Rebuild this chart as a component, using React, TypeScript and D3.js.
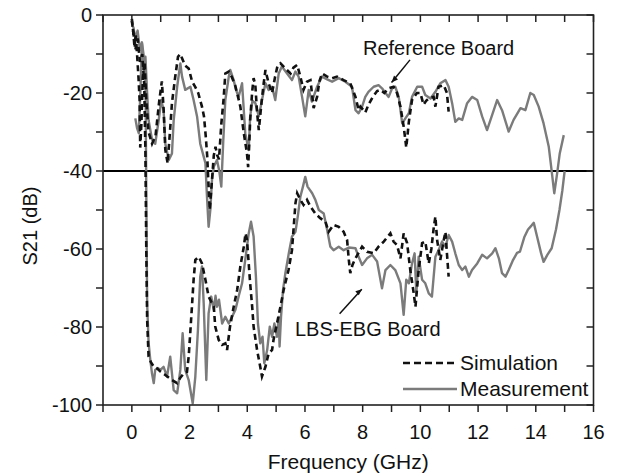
import React from "react";
import * as d3 from "d3";

// S21 transmission, reference board vs. LBS-EBG board (GHz, dB)
const refSim: [number, number][] = [
  [0, -1], [0.05, -4.5], [0.09, -8], [0.13, -5], [0.18, -10], [0.23, -16], [0.27, -22], [0.29, -34],
  [0.33, -28], [0.38, -16], [0.44, -12], [0.5, -22], [0.58, -30], [0.7, -33], [0.82, -31], [0.95, -22],
  [1.04, -17], [1.1, -24], [1.16, -34.6], [1.24, -38], [1.32, -30], [1.39, -22.6], [1.5, -16], [1.6, -10.7],
  [1.68, -10], [1.74, -11.1], [1.85, -13], [1.97, -13.7], [2.09, -17.1], [2.2, -18.5], [2.3, -20],
  [2.43, -23.5], [2.5, -26], [2.56, -31], [2.61, -36], [2.66, -44], [2.7, -50], [2.76, -44], [2.84, -36],
  [2.9, -33.8], [2.96, -36], [3.02, -37], [3.1, -28], [3.18, -21.5], [3.24, -15], [3.36, -14.5],
  [3.47, -16], [3.58, -18], [3.68, -21], [3.76, -23.5], [3.88, -30.3], [3.99, -35.5], [4.03, -39],
  [4.07, -33], [4.1, -27], [4.17, -19.7], [4.22, -16.2], [4.28, -18], [4.34, -25], [4.4, -29.5],
  [4.5, -22], [4.57, -17.5], [4.63, -14.1], [4.74, -17.5], [4.86, -20], [4.96, -16], [5.05, -13],
  [5.15, -12.4], [5.32, -13.7], [5.5, -15], [5.6, -13.5], [5.73, -12.8], [5.84, -15.8], [5.95, -19.2],
  [6.07, -17.1], [6.19, -16.7], [6.3, -23.9], [6.42, -21], [6.5, -17], [6.59, -15], [6.77, -15.8],
  [6.94, -16.2], [7.11, -15.8], [7.34, -16.7], [7.57, -17.5], [7.75, -21], [7.86, -24.4], [7.92, -23.5],
  [8.03, -24.4], [8.09, -25], [8.2, -23], [8.35, -21], [8.5, -19.5], [8.61, -19.2], [8.75, -20],
  [8.9, -18.8], [9.07, -18.4], [9.19, -20], [9.31, -23.5], [9.42, -28.6], [9.48, -32], [9.51, -34],
  [9.6, -27.4], [9.71, -21.8], [9.88, -20], [10.0, -20], [10.11, -23], [10.2, -22], [10.29, -21.4],
  [10.46, -21], [10.52, -23.5], [10.63, -18.4], [10.81, -18], [10.92, -20], [10.98, -24.8],
];

const refMeas: [number, number][] = [
  [0.12, -26.5], [0.18, -29], [0.24, -30.3], [0.29, -21], [0.35, -7.3], [0.41, -14.1], [0.47, -10.7],
  [0.53, -20], [0.58, -27], [0.7, -32], [0.81, -33], [0.93, -27], [1.02, -21.8], [1.1, -24.4],
  [1.16, -33], [1.28, -37.2], [1.39, -35.5], [1.45, -27], [1.57, -18.4], [1.68, -12.4], [1.74, -15.8],
  [1.85, -19.2], [2.03, -18.4], [2.14, -21.8], [2.26, -26], [2.37, -33], [2.49, -36.3], [2.55, -38],
  [2.6, -46], [2.66, -54.3], [2.72, -50], [2.78, -42], [2.84, -38.9], [2.95, -37.2], [3.03, -40],
  [3.1, -44], [3.17, -32], [3.24, -21.8], [3.36, -15.8], [3.41, -14.1], [3.53, -16.7], [3.6, -19],
  [3.7, -21], [3.82, -17.5], [3.93, -30.3], [4.05, -34.6], [4.1, -26], [4.18, -22], [4.28, -22.6],
  [4.4, -26], [4.51, -21.8], [4.63, -17.5], [4.74, -19.2], [4.86, -18.4], [4.97, -21.8], [5.09, -15],
  [5.2, -13.2], [5.38, -15], [5.55, -16.7], [5.67, -14.5], [5.78, -15.8], [5.9, -21], [6.01, -26],
  [6.13, -19.2], [6.24, -22.2], [6.42, -18.4], [6.59, -15.8], [6.77, -16.5], [6.94, -17.1],
  [7.17, -16.2], [7.4, -17.1], [7.63, -18.4], [7.75, -24.4], [7.86, -25.2], [7.98, -23.5], [8.09, -21],
  [8.2, -19.7], [8.38, -18.4], [8.55, -18], [8.67, -18.8], [8.79, -20], [8.9, -21], [9.02, -18.8],
  [9.13, -18.4], [9.25, -21], [9.37, -27.8], [9.48, -26.5], [9.6, -25.2], [9.71, -21], [9.89, -18.4],
  [10.06, -18.4], [10.17, -20.5], [10.35, -21.4], [10.52, -19.7], [10.69, -17.5], [10.87, -16.7],
  [10.98, -18.4], [11.1, -22.6], [11.21, -27.4], [11.33, -26.5], [11.45, -26.9], [11.62, -22.6],
  [11.79, -21], [11.97, -21.8], [12.14, -26], [12.31, -29.5], [12.43, -26.9], [12.66, -21.8],
  [12.83, -24.4], [13.06, -29.9], [13.23, -26.9], [13.47, -23.9], [13.64, -24.4], [13.81, -20],
  [13.93, -20.5], [14.1, -23.5], [14.27, -27.8], [14.45, -33.8], [14.56, -40.6], [14.64, -45.7],
  [14.74, -40.6], [14.83, -35.5], [14.97, -30.8],
];

const lbsSim: [number, number][] = [
  [0, -1.5], [0.06, -5], [0.12, -9], [0.2, -6], [0.28, -12], [0.36, -10], [0.43, -18], [0.47, -35],
  [0.5, -60], [0.53, -78], [0.58, -87.6], [0.66, -89], [0.76, -90.2], [0.87, -90.6], [1.0, -91.5],
  [1.16, -92.3], [1.39, -93.6], [1.57, -94.4], [1.68, -93], [1.8, -91.9], [1.91, -91.5], [1.97, -87.6],
  [2.03, -80.8], [2.09, -73.9], [2.14, -67.9], [2.2, -62.8], [2.32, -62], [2.43, -63.7], [2.55, -67.9],
  [2.66, -72.2], [2.84, -74.8], [2.89, -79.9], [3.01, -83.3], [3.13, -84.6], [3.24, -84.2], [3.3, -85.9],
  [3.4, -80], [3.53, -74.8], [3.65, -70.5], [3.76, -64.5], [3.88, -59.4], [3.94, -56], [3.99, -57.7],
  [4.05, -63.7], [4.1, -68.8], [4.17, -74.8], [4.22, -79.9], [4.34, -85.9], [4.45, -90.2], [4.51, -92.7],
  [4.63, -90.2], [4.74, -86.8], [4.86, -85.9], [4.91, -83.3], [5.03, -79.1], [5.15, -74.8], [5.26, -70.5],
  [5.43, -65.4], [5.55, -60.3], [5.61, -54.3], [5.67, -48.3], [5.73, -45.7], [5.84, -47.4], [5.95, -48.7],
  [6.07, -47.4], [6.19, -49.1], [6.36, -50.9], [6.53, -52.1], [6.71, -53], [6.82, -55.6], [6.99, -53.8],
  [7.17, -54.3], [7.34, -55.6], [7.46, -57.7], [7.52, -62.8], [7.57, -66.2], [7.65, -64], [7.75, -62.4],
  [7.98, -59.4], [8.15, -60.7], [8.38, -61.1], [8.55, -59.4], [8.73, -58.1], [8.96, -56], [9.07, -58.1],
  [9.19, -59], [9.31, -62.4], [9.42, -56], [9.54, -58.5], [9.65, -65.4], [9.77, -71.4], [9.83, -74.8],
  [9.94, -65.4], [10.06, -58.5], [10.17, -58.1], [10.29, -63.7], [10.38, -60], [10.46, -54.7],
  [10.52, -51.7], [10.58, -57.7], [10.69, -62.8], [10.81, -57.7], [10.87, -55.6], [10.92, -61.1],
  [10.98, -67.1],
];

const lbsMeas: [number, number][] = [
  [0.05, -3], [0.12, -6], [0.2, -4], [0.28, -9], [0.35, -7], [0.42, -11], [0.47, -14], [0.5, -45],
  [0.53, -73.9], [0.58, -84], [0.64, -88.5], [0.7, -92], [0.76, -94.4], [0.81, -91], [0.9, -90.5],
  [0.99, -91], [1.1, -90.2], [1.22, -92.7], [1.33, -87.6], [1.45, -96.2], [1.57, -97], [1.68, -91],
  [1.76, -81.6], [1.85, -91], [1.97, -93.6], [2.11, -99.6], [2.2, -92.7], [2.29, -80.8], [2.37, -67.1],
  [2.43, -64.5], [2.49, -73.9], [2.58, -93.6], [2.66, -76.5], [2.75, -72.2], [2.84, -75.6], [2.9, -72],
  [2.95, -74.8], [3.02, -73], [3.13, -79.1], [3.24, -77.4], [3.36, -79.1], [3.47, -77.4], [3.59, -75.6],
  [3.7, -72.2], [3.82, -68.8], [3.93, -62.8], [4.05, -56], [4.13, -53], [4.22, -56.8], [4.3, -67.1],
  [4.37, -79.1], [4.45, -84.2], [4.53, -82.5], [4.59, -89.3], [4.69, -85.9], [4.78, -79.9], [4.86, -82.5],
  [4.94, -79.1], [5.03, -82.5], [5.09, -77.4], [5.12, -85], [5.17, -77.4], [5.24, -70.5], [5.32, -66.2],
  [5.44, -61.1], [5.55, -56.8], [5.67, -55.6], [5.75, -51.7], [5.84, -46.6], [5.93, -44], [6.01, -41.5],
  [6.09, -44], [6.25, -45.7], [6.36, -47.4], [6.48, -50], [6.65, -50.9], [6.77, -55.1], [6.88, -59.4],
  [6.99, -60.3], [7.17, -59.4], [7.34, -60.3], [7.52, -59.6], [7.75, -59.8], [7.86, -62], [7.98, -64.1],
  [8.15, -62.4], [8.33, -61.5], [8.5, -63.2], [8.67, -70.1], [8.79, -65.4], [8.96, -64.1], [9.13, -65.4],
  [9.31, -68.8], [9.42, -76.9], [9.51, -67.9], [9.6, -68.8], [9.71, -63.7], [9.8, -61.1], [9.86, -71.4],
  [9.94, -62], [10.06, -67.9], [10.17, -68.8], [10.29, -71.4], [10.4, -72.2], [10.52, -62], [10.63, -60.3],
  [10.75, -58.1], [10.87, -59.4], [10.98, -56.4], [11.1, -58.1], [11.21, -61.1], [11.33, -64.1],
  [11.45, -65.4], [11.56, -64.5], [11.68, -67.1], [11.79, -65.4], [11.97, -63.7], [12.14, -61.5],
  [12.31, -62.4], [12.49, -61.1], [12.6, -59.8], [12.72, -62.4], [12.83, -66.2], [12.95, -67.1],
  [13.06, -65.4], [13.2, -63], [13.35, -61], [13.45, -60.7], [13.6, -57], [13.73, -55], [13.85, -54],
  [13.93, -53.3], [14.05, -57], [14.18, -61], [14.27, -63.3], [14.4, -61.5], [14.55, -59.8], [14.7, -55],
  [14.82, -50], [14.92, -45], [15.0, -40],
];

const xTicks = [0, 2, 4, 6, 8, 10, 12, 14, 16];
const xMinorTicks = [-1, 1, 3, 5, 7, 9, 11, 13, 15];
const yTicks = [0, -20, -40, -60, -80, -100];
const yMinorTicks = [-10, -30, -50, -70, -90];
const legendLabels = ["Simulation", "Measurement"];

const W = 618;
const H = 475;
const M = { left: 103, right: 593.5, top: 15, bottom: 405 };
const FONT = "'Liberation Sans', Arial, Helvetica, sans-serif";
const GRAY = "#7b7b7b";

export default function App() {
  const x = d3.scaleLinear().domain([-1, 16]).range([M.left, M.right]);
  const y = d3.scaleLinear().domain([-100, 0]).range([M.bottom, M.top]);
  const line = d3
    .line<[number, number]>()
    .x((d) => x(d[0]))
    .y((d) => y(d[1]));

  const tickLen = 7;
  const axisColor = "#222";

  return (
    <svg
      width={W}
      height={H}
      style={{ position: "absolute", left: 0, top: 0, background: "#fff" }}
      fontFamily={FONT}
    >
      <rect width={W} height={H} fill="#fff" />

      {/* -40 dB separator */}
      <line x1={M.left} x2={M.right} y1={y(-40)} y2={y(-40)} stroke="#000" strokeWidth={2.2} />

      {/* measured curves */}
      <path d={line(refMeas) || ""} fill="none" stroke={GRAY} strokeWidth={2.4} strokeLinejoin="round" />
      <path d={line(lbsMeas) || ""} fill="none" stroke={GRAY} strokeWidth={2.4} strokeLinejoin="round" />
      {/* simulated curves */}
      <path d={line(refSim) || ""} fill="none" stroke="#111" strokeWidth={2.6} strokeDasharray="6,4" />
      <path d={line(lbsSim) || ""} fill="none" stroke="#111" strokeWidth={2.6} strokeDasharray="6,4" />

      {/* frame */}
      <rect
        x={M.left}
        y={M.top}
        width={M.right - M.left}
        height={M.bottom - M.top}
        fill="none"
        stroke={axisColor}
        strokeWidth={1.6}
      />

      {/* x ticks: outside at bottom, inside at top */}
      {[...xTicks, ...xMinorTicks].map((t) => (
        <g key={"xt" + t}>
          <line x1={x(t)} x2={x(t)} y1={M.bottom} y2={M.bottom + tickLen} stroke={axisColor} strokeWidth={1.5} />
          <line x1={x(t)} x2={x(t)} y1={M.top} y2={M.top + tickLen} stroke={axisColor} strokeWidth={1.5} />
        </g>
      ))}
      {xTicks.map((t) => (
        <text key={"xl" + t} x={x(t)} y={439} textAnchor="middle" fontSize={20} fill="#111">
          {t}
        </text>
      ))}

      {/* y ticks: outside at left, inside at right */}
      {[...yTicks, ...yMinorTicks].map((t) => (
        <g key={"yt" + t}>
          <line x1={M.left - tickLen} x2={M.left} y1={y(t)} y2={y(t)} stroke={axisColor} strokeWidth={1.5} />
          <line x1={M.right - tickLen} x2={M.right} y1={y(t)} y2={y(t)} stroke={axisColor} strokeWidth={1.5} />
        </g>
      ))}
      {yTicks.map((t) => (
        <text key={"yl" + t} x={92} y={y(t)} dy="0.36em" textAnchor="end" fontSize={20} fill="#111">
          {t}
        </text>
      ))}

      {/* axis titles */}
      <text x={(M.left + M.right) / 2} y={469} textAnchor="middle" fontSize={21} fill="#111">
        Frequency (GHz)
      </text>
      <text
        transform={`translate(37, 226) rotate(-90)`}
        textAnchor="middle"
        fontSize={20}
        fill="#111"
      >
        S21 (dB)
      </text>

      {/* annotations */}
      <text x={363} y={55} fontSize={20} fill="#111">
        Reference Board
      </text>
      <line x1={x(9.64)} y1={y(-11.5)} x2={x(9.0)} y2={y(-17.3)} stroke="#111" strokeWidth={1.5} />
      <path d={`M${x(9.0)},${y(-17.3)} l2.5,-7 l4,4 z`} fill="#111" />
      <text x={295} y={336} fontSize={20} fill="#111">
        LBS-EBG Board
      </text>
      <line x1={x(7.2)} y1={y(-76.6)} x2={x(7.97)} y2={y(-70.3)} stroke="#111" strokeWidth={1.5} />
      <path d={`M${x(7.97)},${y(-70.3)} l-6.5,2 l3.5,4 z`} fill="#111" />

      {/* legend */}
      <line x1={403} x2={457} y1={363} y2={363} stroke="#111" strokeWidth={2.6} strokeDasharray="7,4" />
      <text x={460} y={370} fontSize={21} fill="#111">
        {legendLabels[0]}
      </text>
      <line x1={403} x2={457} y1={389} y2={389} stroke={GRAY} strokeWidth={2.6} />
      <text x={460} y={396} fontSize={21} fill="#111">
        {legendLabels[1]}
      </text>
    </svg>
  );
}
